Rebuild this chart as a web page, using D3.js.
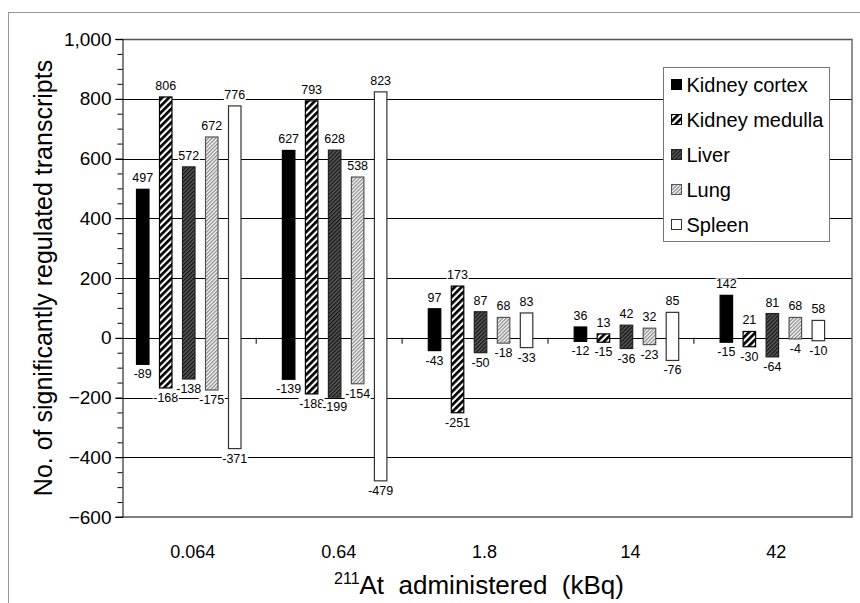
<!DOCTYPE html>
<html>
<head>
<meta charset="utf-8">
<script src="https://cdn.jsdelivr.net/npm/d3@7"></script>
<style>
  body { margin: 0; background: #fff; }
  svg { font-family: Arial, "Liberation Sans", sans-serif; }
</style>
</head>
<body>
<div class="canvas"></div>
<script>
// doses (x categories) and tissues (series)
const doses = ['0.064', '0.64', '1.8', '14', '42'];
const tissues = ['Kidney cortex', 'Kidney medulla', 'Liver', 'Lung', 'Spleen'];

// up-regulated transcripts per tissue, one value per dose
const cortexUp  = [497, 627, 97, 36, 142];
const medullaUp = [806, 793, 173, 13, 21];
const liverUp   = [572, 628, 87, 42, 81];
const lungUp    = [672, 538, 68, 32, 68];
const spleenUp  = [776, 823, 83, 85, 58];

// down-regulated transcripts
const cortexDown  = [-89, -139, -43, -12, -15];
const medullaDown = [-168, -188, -251, -15, -30];
const liverDown   = [-138, -199, -50, -36, -64];
const lungDown    = [-175, -154, -18, -23, -4];
const spleenDown  = [-371, -479, -33, -76, -10];

const yTicks = [-600, -400, -200, 0, 200, 400, 600, 800, 1000];

const ups = [cortexUp, medullaUp, liverUp, lungUp, spleenUp];
const downs = [cortexDown, medullaDown, liverDown, lungDown, spleenDown];

const bars = [];
doses.forEach((dose, i) => {
    tissues.forEach((t, j) => {
        bars.push({ dose, tissue: t, up: ups[j][i], down: downs[j][i] });
    });
});

const dims = { width: 860, height: 603 };
const plot = { left: 122.5, right: 852, top: 39, bottom: 517 };

const svg = d3.select('.canvas')
    .append('svg')
    .attr('width', dims.width)
    .attr('height', dims.height);

// fill patterns
const defs = svg.append('defs');

const stripe = (id, bg, fg, period, w) => {
    const p = defs.append('pattern')
        .attr('id', id)
        .attr('patternUnits', 'userSpaceOnUse')
        .attr('width', period)
        .attr('height', period)
        .attr('patternTransform', 'rotate(45)');
    p.append('rect').attr('width', period).attr('height', period).attr('fill', bg);
    p.append('rect').attr('width', w).attr('height', period).attr('fill', fg);
};
stripe('medulla', '#fff', '#000', 4.8, 2.7);
stripe('liver', '#5e5e5e', '#111', 2.8, 1.3);
stripe('lung', '#fff', '#888', 2.6, 1.3);

const fills = {
    'Kidney cortex': '#000',
    'Kidney medulla': 'url(#medulla)',
    'Liver': 'url(#liver)',
    'Lung': 'url(#lung)',
    'Spleen': '#fff'
};
const strokes = {
    'Kidney cortex': '#000',
    'Kidney medulla': '#000',
    'Liver': '#222',
    'Lung': '#555',
    'Spleen': '#333'
};

// outer frame
svg.append('rect')
    .attr('x', 8.5).attr('y', 12.5)
    .attr('width', 870).attr('height', 620)
    .attr('fill', 'none')
    .attr('stroke', '#999');

// scales
const y = d3.scaleLinear().domain([-600, 1000]).range([plot.bottom, plot.top]);

const x = d3.scaleBand()
    .domain(doses)
    .range([plot.left - 12.7, plot.right - 12.7]);

const inner = d3.scaleBand()
    .domain(tissues)
    .range([-52.25, 52.25])
    .paddingInner(0.457)
    .paddingOuter(0);

const groupCenter = d => x(d) + x.bandwidth() / 2 + 6;

// grid lines
svg.append('g')
    .selectAll('line')
    .data(yTicks.slice(1, -1))
    .enter().append('line')
        .attr('x1', plot.left - 7).attr('x2', plot.right)
        .attr('y1', d => Math.round(y(d)) + 0.5)
        .attr('y2', d => Math.round(y(d)) + 0.5)
        .attr('stroke', '#000');

// plot frame
svg.append('path')
    .attr('d', `M${plot.left - 7},${plot.top + 0.5}H${plot.right}V${plot.bottom}H${plot.left - 7}`)
    .attr('fill', 'none')
    .attr('stroke', '#555')
    .attr('stroke-width', 1.3);

// y axis
const yAxis = d3.axisLeft(y)
    .tickValues(yTicks)
    .tickFormat(d3.format(','))
    .tickSize(7)
    .tickPadding(4);

const yAxisGroup = svg.append('g')
    .attr('transform', `translate(${plot.left},0)`)
    .call(yAxis);
yAxisGroup.select('.domain').attr('stroke', '#000');
yAxisGroup.selectAll('text')
    .attr('font-size', 19)
    .attr('font-family', 'Arial')
    .attr('fill', '#000');

// minor ticks
const minor = d3.axisLeft(y)
    .tickValues(d3.range(-600, 1001, 50).filter(v => v % 200 !== 0))
    .tickSize(5)
    .tickFormat('');
svg.append('g')
    .attr('transform', `translate(${plot.left},0)`)
    .call(minor)
    .select('.domain').remove();

// category ticks at the zero line
svg.append('g')
    .selectAll('line')
    .data(doses.slice(1))
    .enter().append('line')
        .attr('x1', d => x(d) + 0.5).attr('x2', d => x(d) + 0.5)
        .attr('y1', y(0)).attr('y2', y(0) + 6)
        .attr('stroke', '#000');

// bars
const graph = svg.append('g');
graph.selectAll('rect')
    .data(bars)
    .enter().append('rect')
        .attr('x', d => groupCenter(d.dose) + inner(d.tissue))
        .attr('y', d => y(d.up))
        .attr('width', inner.bandwidth())
        .attr('height', d => y(d.down) - y(d.up))
        .attr('fill', d => fills[d.tissue])
        .attr('stroke', d => strokes[d.tissue])
        .attr('stroke-width', 1.2);

// value labels with white background
const addLabel = (d, value, baseline) => {
    const cx = groupCenter(d.dose) + inner(d.tissue) + inner.bandwidth() / 2;
    const g = graph.append('g');
    const bg = g.append('rect').attr('fill', '#fff');
    const t = g.append('text')
        .attr('x', cx)
        .attr('y', baseline)
        .attr('text-anchor', 'middle')
        .attr('font-family', '"Liberation Sans Narrow", "Arial Narrow", Arial')
        .attr('font-size', 12.5)
        .attr('fill', '#000')
        .text(value);
    const b = t.node().getBBox();
    bg.attr('x', b.x - 0.5).attr('y', b.y + 1).attr('width', b.width + 1).attr('height', b.height - 2);
};
bars.forEach(d => {
    addLabel(d, d.up, y(d.up) - 7);
    addLabel(d, d.down, y(d.down) + 14);
});

// category labels
svg.append('g')
    .selectAll('text')
    .data(doses)
    .enter().append('text')
        .attr('x', d => groupCenter(d) + 4)
        .attr('y', 558)
        .attr('text-anchor', 'middle')
        .attr('font-size', 18)
        .text(d => d);

// axis titles
svg.append('text')
    .attr('transform', `translate(52,${(plot.top + plot.bottom) / 2}) rotate(-90)`)
    .attr('text-anchor', 'middle')
    .attr('font-size', 25)
    .text('No. of significantly regulated transcripts');

const xTitle = svg.append('text')
    .attr('x', 479)
    .attr('y', 594)
    .attr('text-anchor', 'middle')
    .attr('font-size', 26)
    .style('white-space', 'pre');
xTitle.append('tspan').attr('font-size', 16).attr('dy', -10).text('211');
xTitle.append('tspan').attr('dy', 10).text('At  administered  (kBq)');

// legend
const legendGroup = svg.append('g')
    .attr('transform', 'translate(663.5,67.5)');
legendGroup.append('rect')
    .attr('width', 166).attr('height', 174)
    .attr('fill', '#fff')
    .attr('stroke', '#777');

const legendItems = legendGroup.selectAll('g')
    .data(tissues)
    .enter().append('g')
        .attr('transform', (d, i) => `translate(8,${17 + i * 35})`);
legendItems.append('rect')
    .attr('x', 0).attr('y', -5)
    .attr('width', 10).attr('height', 10)
    .attr('fill', d => fills[d])
    .attr('stroke', d => strokes[d]);
legendItems.append('text')
    .attr('x', 15)
    .attr('y', 7)
    .attr('font-size', 20)
    .text(d => d);
</script>
</body>
</html>
